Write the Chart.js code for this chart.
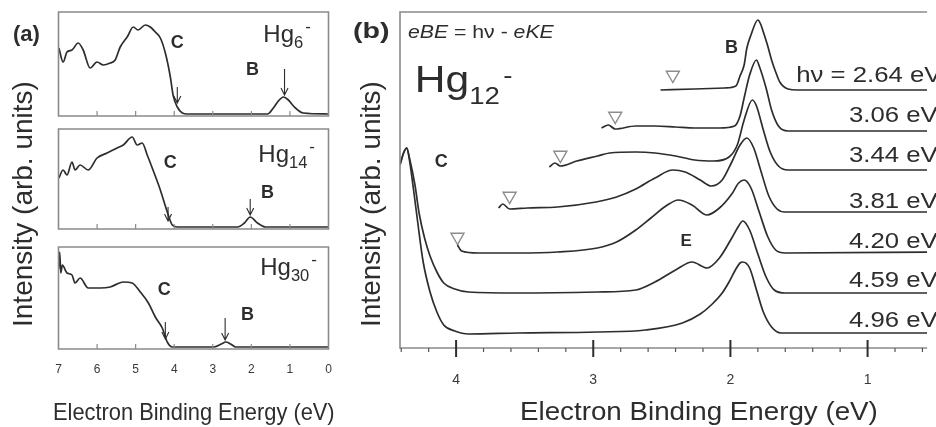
<!DOCTYPE html>
<html>
<head>
<meta charset="utf-8">
<title>Hg cluster anion photoelectron spectra</title>
<script src="https://cdn.jsdelivr.net/npm/chart.js@4.4.1/dist/chart.umd.min.js"></script>
<style>
  html, body { margin:0; padding:0; background:#ffffff; }
  #fig { position:relative; width:936px; height:427px; overflow:hidden; background:#ffffff; }
  #fig canvas { position:absolute; left:0; top:0; }
</style>
</head>
<body>
<div id="fig">
  <canvas id="cA1" width="936" height="427"></canvas>
  <canvas id="cA2" width="936" height="427"></canvas>
  <canvas id="cA3" width="936" height="427"></canvas>
  <canvas id="cB" width="936" height="427"></canvas>
</div>
<script>
// ================= DATA =================
// Panel (a): electron binding energy (eV) and intensity (arb. units)
const hg6BE   = [6.99,6.88,6.78,6.65,6.49,6.36,6.18,6.00,5.84,5.66,5.53,5.40,5.22,5.06,4.94,4.75,4.62,4.49,4.36,4.23,4.10,4.03,3.92,3.79,3.66,1.58,1.43,1.30,1.17,1.04,0.91,0.65,0.00];
const hg6Int  = [68,54,64,66,73,66,48,54,51,53,56,69,79,89,86,91,89,84,78,63,39,21,9,3,2,2,8,15,19,16,10,3,2];

const hg14BE  = [6.99,6.88,6.78,6.65,6.57,6.44,6.23,6.00,5.74,5.48,5.32,5.09,4.96,4.83,4.70,4.55,4.36,4.18,4.05,3.92,2.36,2.18,2.03,1.84,1.64,0.00];
const hg14Int = [51,59,54,67,59,64,59,71,76,81,84,92,84,86,74,59,39,17,4,2,2,6,12,6,2,2];

const hg30BE  = [7.00,6.97,6.94,6.90,6.78,6.65,6.57,6.44,6.23,5.92,5.66,5.32,5.09,4.88,4.67,4.49,4.31,4.18,4.05,2.98,2.78,2.66,2.54,2.40,0.00];
const hg30Int = [80,97,76,84,76,74,66,71,61,61,62,67,66,57,46,32,21,7,2,2,5,7,5,2,2];

const aTickVals   = [7,6,5,4,3,2,1,0];
const aTickLabels = ['7','6','5','4','3','2','1','0'];

// Panel (b): Hg12- spectra at seven photon energies (offset vertically)
const photonLabels = ['hν = 2.64 eV','3.06 eV','3.44 eV','3.81 eV','4.20 eV','4.59 eV','4.96 eV'];

const b264BE  = [2.51,2.26,2.04,1.96,1.93,1.90,1.88,1.85,1.80,1.78,1.76,1.73,1.70,1.67,1.64,1.58,1.51,0.50];
const b264Int = [258,259,260,262,272,283,300,313,328,324,316,303,288,276,266,259,258,258];

const b306BE  = [2.94,2.89,2.84,2.69,2.55,2.40,2.26,2.08,1.97,1.93,1.90,1.86,1.81,1.79,1.74,1.70,1.65,1.58,0.50];
const b306Int = [220,223,219,222,222,221,220,220,222,232,250,273,288,282,260,238,222,217,217];

const b344BE  = [3.32,3.28,3.24,3.12,2.97,2.88,2.69,2.55,2.40,2.26,2.12,2.01,1.95,1.90,1.84,1.81,1.76,1.71,1.65,1.58,0.50];
const b344Int = [181,185,182,187,192,195,196,195,192,188,187,191,203,228,248,242,218,196,182,178,178];

const b381BE  = [3.69,3.66,3.61,3.48,3.26,2.98,2.83,2.69,2.55,2.42,2.33,2.22,2.14,2.06,1.99,1.93,1.88,1.83,1.78,1.72,1.66,1.60,0.50];
const b381Int = [140,144,139,140,141,146,151,159,170,178,176,168,162,168,186,203,210,200,178,152,139,136,136];

const b420BE  = [3.99,3.96,3.84,3.55,3.26,2.97,2.83,2.69,2.58,2.47,2.38,2.28,2.17,2.08,1.99,1.94,1.90,1.85,1.79,1.73,1.67,1.60,0.50];
const b420Int = [103,97,95,95,96,100,106,118,130,142,148,143,133,140,154,165,168,160,136,112,98,95,96];

const b459BE  = [4.41,4.38,4.36,4.34,4.30,4.27,4.23,4.19,4.14,4.09,4.01,3.91,3.55,2.97,2.69,2.55,2.40,2.28,2.17,2.08,1.99,1.94,1.91,1.86,1.80,1.74,1.68,1.60,0.50];
const b459Int = [183,196,200,190,163,135,110,92,76,65,59,56,55,56,58,66,78,86,80,90,110,122,127,118,94,71,58,55,55];

const b496BE  = [4.41,4.38,4.36,4.34,4.31,4.28,4.24,4.19,4.14,4.09,4.01,3.91,3.55,2.97,2.62,2.35,2.22,2.14,2.06,2.01,1.96,1.93,1.91,1.86,1.81,1.76,1.70,1.63,0.50];
const b496Int = [183,196,200,188,158,126,86,56,36,23,17,14,15,16,18,25,34,43,55,66,79,85,86,80,58,36,21,15,15];

// threshold markers (open triangles)
const triBE  = [2.42,2.84,3.24,3.61,3.99];
const triInt = [273,232,193,152,111];

const bTickVals   = [4,3,2,1];
const bTickLabels = ['4','3','2','1'];
const bMinorVals  = [4.4,4.2,3.8,3.6,3.4,3.2,2.8,2.6,2.4,2.2,1.8,1.6,1.4,1.2,0.8,0.6];

// ================= STYLE / HELPERS =================
const FONT  = '"Liberation Sans", Arial, Helvetica, sans-serif';
const INK   = '#2d2d2d';
const FRAME = '#8a8a8a';
const TRI   = '#8c8c8c';

function pts(xs, ys){ return xs.map((x,i)=>({x:x, y:ys[i]})); }
function f(size, weight, style){ return (style||'normal') + ' ' + (weight||'normal') + ' ' + size + 'px ' + FONT; }

function drawRich(ctx, x, y, item){
  ctx.save();
  ctx.translate(x, y);
  if (item.rot) ctx.rotate(item.rot);
  ctx.scale(item.sx || 1, 1);
  let total = 0;
  item.parts.forEach(p => { ctx.font = p[1]; total += ctx.measureText(p[0]).width + (p[3]||0); });
  let cx = item.align === 'center' ? -total/2 : (item.align === 'right' ? -total : 0);
  ctx.fillStyle = item.color || INK;
  ctx.textBaseline = 'alphabetic';
  ctx.textAlign = 'left';
  item.parts.forEach(p => { ctx.font = p[1]; ctx.fillText(p[0], cx, p[2]||0); cx += ctx.measureText(p[0]).width + (p[3]||0); });
  ctx.restore();
}

function decor(d){
  return {
    id: 'decor',
    afterDatasetsDraw(chart){
      const ctx = chart.ctx, xs = chart.scales.x, ys = chart.scales.y, a = chart.chartArea;
      ctx.save();
      ctx.strokeStyle = FRAME; ctx.lineWidth = 1.6;
      ctx.beginPath();
      if (d.box) { ctx.rect(a.left, a.top, a.right - a.left, a.bottom - a.top); }
      else { ctx.moveTo(a.right, a.top); ctx.lineTo(a.left, a.top); ctx.lineTo(a.left, a.bottom); ctx.lineTo(a.right, a.bottom); }
      ctx.stroke();
      (d.ticks||[]).forEach(t => {
        ctx.strokeStyle = t.color; ctx.lineWidth = t.width;
        t.vals.forEach(v => {
          const px = xs.getPixelForValue(v);
          ctx.beginPath(); ctx.moveTo(px, a.bottom - t.up); ctx.lineTo(px, a.bottom + t.down); ctx.stroke();
        });
      });
      ctx.strokeStyle = INK; ctx.lineWidth = 1.1;
      (d.arrows||[]).forEach(ar => {
        const px = xs.getPixelForValue(ar.x), y0 = ys.getPixelForValue(ar.from), y1 = ys.getPixelForValue(ar.to);
        ctx.beginPath(); ctx.moveTo(px, y0); ctx.lineTo(px, y1);
        ctx.moveTo(px - 3.5, y1 - 7); ctx.lineTo(px, y1); ctx.lineTo(px + 3.5, y1 - 7);
        ctx.stroke();
      });
      (d.texts||[]).forEach(tx => {
        const px = tx.px ? tx.at[0] : xs.getPixelForValue(tx.at[0]);
        const py = tx.px ? tx.at[1] : ys.getPixelForValue(tx.at[1]);
        drawRich(ctx, px, py, tx);
      });
      ctx.restore();
    }
  };
}

function makeChart(id, datasets, xo, yo, pad, d){
  return new Chart(document.getElementById(id), {
    type: 'line',
    data: { datasets: datasets },
    options: {
      responsive:false, maintainAspectRatio:false, animation:false, devicePixelRatio:1, events:[],
      layout: { padding: pad },
      plugins: { legend:{display:false}, tooltip:{enabled:false}, title:{display:false} },
      elements: { point:{radius:0}, line:{borderWidth:1.7, borderColor:INK, cubicInterpolationMode:'monotone', fill:false} },
      scales: { x: xo, y: yo }
    },
    plugins: [decor(d)]
  });
}

function lineDs(xs, ys){ return { data: pts(xs, ys), borderColor: INK, borderWidth: 1.7, pointRadius: 0 }; }

// ================= PANEL (a) =================
const aLeft = 58.5, aRight = 328.5;
const aTickMarks = { vals:[6,5,4,3,2,1], up:5, down:0, width:1.2, color:FRAME };
const xHidden = { type:'linear', reverse:true, min:0, max:7, display:false };

function hgLabel(at, sub){
  return { at: at, parts: [['Hg', f(24)], [sub, f(16.5), 6, 2], ['-', f(17), -10]] };
}

makeChart('cA1', [lineDs(hg6BE, hg6Int)], xHidden,
  { type:'linear', min:0, max:104, display:false },
  { left:aLeft, right:936-aRight, top:12, bottom:427-116 },
  { box:true, ticks:[aTickMarks],
    arrows:[{x:3.92, from:29, to:13}, {x:1.14, from:47, to:21}],
    texts:[ {at:[3.92,68], align:'center', parts:[['C', f(18,'bold')]]},
            {at:[1.97,41], align:'center', parts:[['B', f(18,'bold')]]},
            hgLabel([1.69,74], '6'),
            {px:true, at:[13,40.5], parts:[['(a)', f(22,'bold')]]} ] });

makeChart('cA2', [lineDs(hg14BE, hg14Int)], xHidden,
  { type:'linear', min:0, max:100, display:false },
  { left:aLeft, right:936-aRight, top:129, bottom:427-229 },
  { box:true, ticks:[aTickMarks],
    arrows:[{x:4.16, from:22, to:8}, {x:2.03, from:30, to:14}],
    texts:[ {at:[4.10,61], align:'center', parts:[['C', f(18,'bold')]]},
            {at:[1.58,31], align:'center', parts:[['B', f(18,'bold')]]},
            hgLabel([1.82,67], '14') ] });

makeChart('cA3', [lineDs(hg30BE, hg30Int)],
  { type:'linear', reverse:true, min:0, max:7,
    afterBuildTicks: s => { s.ticks = aTickVals.map(v => ({value:v})); },
    afterFit: s => { s.height = 78; },
    grid:{display:false, drawTicks:false}, border:{display:false},
    ticks:{ autoSkip:false, maxRotation:0, minRotation:0, padding:13, color:'#3a3a3a',
            font:{family:FONT, size:12}, callback: v => aTickLabels[aTickVals.indexOf(v)] } },
  { type:'linear', min:0, max:102, display:false },
  { left:aLeft, right:936-aRight, top:247, bottom:0 },
  { box:true, ticks:[aTickMarks],
    arrows:[{x:4.23, from:27, to:10}, {x:2.68, from:31, to:9}],
    texts:[ {at:[4.26,54], align:'center', parts:[['C', f(18,'bold')]]},
            {at:[2.10,29], align:'center', parts:[['B', f(18,'bold')]]},
            hgLabel([1.77,74], '30'),
            {px:true, at:[53,420], sx:0.91, parts:[['Electron Binding Energy (eV)', f(24)]]},
            {px:true, at:[32,327], rot:-Math.PI/2, parts:[['Intensity (arb. units)', f(28)]]} ] });

// ================= PANEL (b) =================
const bSeries = [[b264BE,b264Int],[b306BE,b306Int],[b344BE,b344Int],[b381BE,b381Int],[b420BE,b420Int],[b459BE,b459Int],[b496BE,b496Int]];
const bDatasets = bSeries.map(s => lineDs(s[0], s[1]));
bDatasets.push({ data: pts(triBE, triInt), showLine:false, pointStyle:'triangle', pointRotation:180,
                 pointRadius:7.5, pointBorderColor:TRI, pointBackgroundColor:'rgba(255,255,255,0)', pointBorderWidth:1.4 });

const labelAnchors = [[1.52,266],[1.135,226],[1.135,186],[1.135,140],[1.135,100],[1.135,61],[1.135,21]];
const bLabelTexts = photonLabels.map((t,i) => ({ at: labelAnchors[i], sx:1.17, parts:[[t, f(22)]] }));

makeChart('cB', bDatasets,
  { type:'linear', reverse:true, min:0.566, max:4.409,
    afterBuildTicks: s => { s.ticks = bTickVals.map(v => ({value:v})); },
    afterFit: s => { s.height = 79; },
    grid:{display:false, drawTicks:false}, border:{display:false},
    ticks:{ autoSkip:false, maxRotation:0, minRotation:0, padding:23.5, color:'#3a3a3a',
            font:{family:FONT, size:14}, callback: v => bTickLabels[bTickVals.indexOf(v)] } },
  { type:'linear', min:0, max:336, display:false },
  { left:400, right:0, top:12, bottom:0 },
  { box:false,
    ticks:[ { vals:bMinorVals, up:0, down:4, width:1.2, color:'#555' },
            { vals:bTickVals, up:8, down:9, width:2, color:INK } ],
    texts: bLabelTexts.concat([
      {at:[4.351,310], sx:1.18, parts:[['eBE', f(18,'normal','italic')], [' = hν - ', f(18)], ['eKE', f(18,'normal','italic')]]},
      {at:[4.301,256], sx:1.15, parts:[['Hg', f(37)], ['12', f(24), 12, 3], ['-', f(24), -9]]},
      {at:[1.993,295], align:'center', parts:[['B', f(18,'bold')]]},
      {at:[4.108,181], align:'center', parts:[['C', f(18,'bold')]]},
      {at:[2.323,102], align:'center', parts:[['E', f(17,'bold')]]},
      {px:true, at:[353,38], sx:1.3, parts:[['(b)', f(22,'bold')]]},
      {px:true, at:[520,420], sx:1.11, parts:[['Electron Binding Energy (eV)', f(25)]]},
      {px:true, at:[380,327], rot:-Math.PI/2, parts:[['Intensity (arb. units)', f(28)]]}
    ]) });
</script>
</body>
</html>
